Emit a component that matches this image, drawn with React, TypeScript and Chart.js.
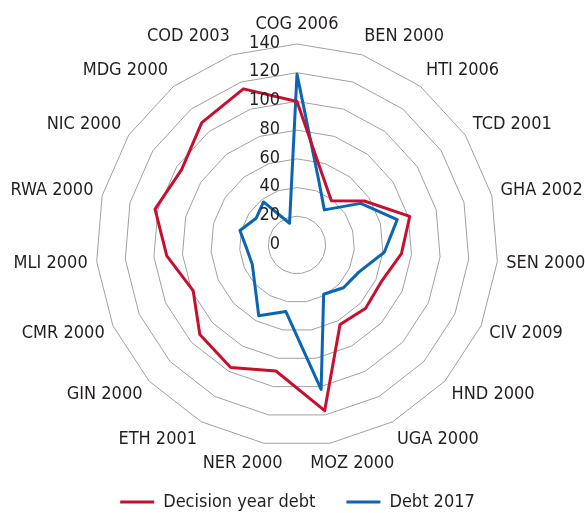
import React, { useEffect, useRef } from 'react';
import { Chart, registerables } from 'chart.js';

Chart.register(...registerables);

const categories = [
  'COG 2006', 'BEN 2000', 'HTI 2006', 'TCD 2001', 'GHA 2002', 'SEN 2000', 'CIV 2009',
  'HND 2000', 'UGA 2000', 'MOZ 2000', 'NER 2000', 'ETH 2001', 'GIN 2000', 'CMR 2000',
  'MLI 2000', 'RWA 2000', 'NIC 2000', 'MDG 2000', 'COD 2003',
];

const decisionYearDebt = [100, 53, 39, 56, 81, 73, 64, 65, 63, 117, 89, 97, 92, 79, 91, 102, 96, 108, 115];
const debt2017 = [119, 47, 31, 53, 72, 61, 47, 44, 39, 102, 47, 56, 40, 34, 35, 41, 34, 38, 16];

const tickValues = [0, 20, 40, 60, 80, 100, 120, 140];

const seriesNames = ['Decision year debt', 'Debt 2017'];
const seriesColors = ['#C8102E', '#0B64B4'];

const FONT = "'Liberation Sans Narrow', 'DejaVu Sans Condensed', 'Arial Narrow', sans-serif";
const FONT_SIZE = 18;
const TEXT_COLOR = '#231f20';

const textPlugin = {
  id: 'radarText',
  afterDatasetsDraw(chart: any) {
    const scale = chart.scales.r;
    const ctx = chart.ctx as CanvasRenderingContext2D;
    ctx.save();
    ctx.font = `${FONT_SIZE}px ${FONT}`;
    ctx.fillStyle = TEXT_COLOR;
    ctx.textBaseline = 'middle';
    ctx.textAlign = 'right';
    tickValues.forEach((v) => {
      const d = scale.getDistanceFromCenterForValue(v);
      ctx.fillText(String(v), scale.xCenter - 17, scale.yCenter - d - 1);
    });
    ctx.textAlign = 'center';
    categories.forEach((label, i) => {
      const angle = scale.getIndexAngle(i);
      const pos = scale.getPointPosition(i, scale.drawingArea + 9);
      const w = ctx.measureText(label).width;
      const s = Math.sin(angle);
      const c = Math.cos(angle);
      const f = Math.max(-1, Math.min(1, 3 * s));
      ctx.fillText(label, pos.x + (f * w) / 2, pos.y - 11 * c);
    });
    ctx.restore();
  },
};

export default function App() {
  const canvasRef = useRef<HTMLCanvasElement | null>(null);

  useEffect(() => {
    if (!canvasRef.current) return;
    const chart = new Chart(canvasRef.current, {
      type: 'radar',
      data: {
        labels: categories,
        datasets: [
          {
            label: seriesNames[0],
            data: decisionYearDebt,
            borderColor: seriesColors[0],
            backgroundColor: seriesColors[0],
            borderWidth: 3,
            borderJoinStyle: 'round',
            pointRadius: 0,
            pointHoverRadius: 0,
            fill: false,
            tension: 0,
          },
          {
            label: seriesNames[1],
            data: debt2017,
            borderColor: seriesColors[1],
            backgroundColor: seriesColors[1],
            borderWidth: 3,
            borderJoinStyle: 'round',
            pointRadius: 0,
            pointHoverRadius: 0,
            fill: false,
            tension: 0,
          },
        ],
      },
      options: {
        responsive: false,
        devicePixelRatio: 1,
        animation: false,
        events: [],
        layout: { padding: { left: 10, right: 0, top: 44, bottom: 0 } },
        scales: {
          r: {
            min: 0,
            max: 140,
            ticks: { display: false, stepSize: 20 },
            grid: { color: '#a0a0a0', lineWidth: 1, circular: false },
            angleLines: { display: false },
            pointLabels: { display: false },
          },
        },
        plugins: {
          tooltip: { enabled: false },
          legend: {
            position: 'bottom',
            maxHeight: 67,
            title: { display: true, text: '', font: { size: 10 }, padding: { top: 4, bottom: 0 } },
            labels: {
              usePointStyle: true,
              pointStyle: 'line',
              pointStyleWidth: 34,
              padding: 31,
              color: TEXT_COLOR,
              font: { family: FONT, size: FONT_SIZE },
            },
          },
        },
      },
      plugins: [textPlugin],
    });
    return () => chart.destroy();
  }, []);

  return (
    <div style={{ position: 'absolute', left: 0, top: 0, width: 585, height: 513 }}>
      <canvas ref={canvasRef} width={585} height={513} style={{ display: 'block' }} />
    </div>
  );
}
